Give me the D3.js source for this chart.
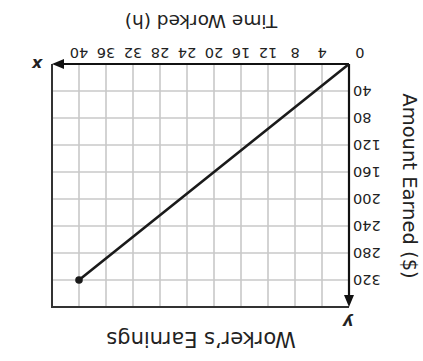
<!DOCTYPE html>
<html>
<head>
<meta charset="utf-8">
<script src="https://cdn.jsdelivr.net/npm/d3@7/dist/d3.min.js"></script>
<style>
  body { margin: 0; background: #fff; }
  text { font-family: "DejaVu Sans", Verdana, sans-serif; fill: #222; }
</style>
</head>
<body>
<div id="chart"></div>
<script>
// data
var hours = [0, 40];
var earned = [0, 320];
var xTicks = [0, 4, 8, 12, 16, 20, 24, 28, 32, 36, 40];
var yTicks = [40, 80, 120, 160, 200, 240, 280, 320];

var svgWidth = 423;
var svgHeight = 361;
var margin = {top: 54, right: 52, bottom: 64, left: 74};
var chartWidth = svgWidth - margin.left - margin.right;
var chartHeight = svgHeight - margin.top - margin.bottom;

var svg = d3.select("#chart")
  .append("svg")
    .attr("width", svgWidth)
    .attr("height", svgHeight);

// the whole picture is upside down
var root = svg.append("g")
  .attr("transform", `rotate(180, ${svgWidth / 2}, ${svgHeight / 2})`);

var chartGroup = root.append("g")
  .attr("transform", `translate(${margin.left}, ${margin.top})`);

var x = d3.scaleLinear().domain([0, 44]).range([0, chartWidth]);
var y = d3.scaleLinear().domain([0, 360]).range([chartHeight, 0]);

// grid
chartGroup.selectAll(".vgrid")
  .data(d3.range(4, 44, 4))
  .enter()
  .append("line")
    .attr("x1", d => x(d)).attr("x2", d => x(d))
    .attr("y1", 0).attr("y2", chartHeight)
    .attr("stroke", "#c8c8c8")
    .attr("stroke-width", 1.6);

chartGroup.selectAll(".hgrid")
  .data(d3.range(40, 360, 40))
  .enter()
  .append("line")
    .attr("x1", 0).attr("x2", chartWidth)
    .attr("y1", d => y(d)).attr("y2", d => y(d))
    .attr("stroke", "#c8c8c8")
    .attr("stroke-width", 1.6);

// outer border (top and right)
chartGroup.append("path")
  .attr("d", `M0,0 H${chartWidth} V${chartHeight}`)
  .attr("fill", "none")
  .attr("stroke", "#333")
  .attr("stroke-width", 2);

// axes
chartGroup.append("line")
  .attr("x1", 0).attr("x2", chartWidth - 8)
  .attr("y1", chartHeight).attr("y2", chartHeight)
  .attr("stroke", "#111").attr("stroke-width", 2.2);
chartGroup.append("path")
  .attr("d", `M${chartWidth},${chartHeight} l-12,-5 l0,10 z`)
  .attr("fill", "#111");

chartGroup.append("line")
  .attr("x1", 0).attr("x2", 0)
  .attr("y1", chartHeight).attr("y2", 8)
  .attr("stroke", "#111").attr("stroke-width", 2.2);
chartGroup.append("path")
  .attr("d", `M0,0 l-5,12 l10,0 z`)
  .attr("fill", "#111");

// tick labels
chartGroup.selectAll(".xlab")
  .data(xTicks)
  .enter()
  .append("text")
    .attr("x", d => d == 0 ? x(d) - 11 : x(d))
    .attr("y", chartHeight + 16)
    .attr("text-anchor", "middle")
    .attr("font-size", "14.5px")
    .text(d => d);

chartGroup.selectAll(".ylab")
  .data(yTicks)
  .enter()
  .append("text")
    .attr("x", -4)
    .attr("y", d => y(d) + 5)
    .attr("text-anchor", "end")
    .attr("font-size", "14.5px")
    .text(d => d);

// axis letters
chartGroup.append("text")
  .attr("x", chartWidth + 15)
  .attr("y", chartHeight + 5)
  .attr("text-anchor", "middle")
  .attr("font-size", "16px")
  .attr("font-weight", "bold")
  .attr("font-style", "italic")
  .text("x");

chartGroup.append("text")
  .attr("x", 1)
  .attr("y", -10)
  .attr("text-anchor", "middle")
  .attr("font-size", "16px")
  .attr("font-weight", "bold")
  .attr("font-style", "italic")
  .text("y");

// the earnings line
var pts = hours.map((h, i) => [h, earned[i]]);
chartGroup.append("path")
  .datum(pts)
  .attr("d", d3.line().x(d => x(d[0])).y(d => y(d[1])))
  .attr("fill", "none")
  .attr("stroke", "#1a1a1a")
  .attr("stroke-width", 2.6);

chartGroup.append("circle")
  .attr("cx", x(hours[1]))
  .attr("cy", y(earned[1]))
  .attr("r", 3.8)
  .attr("fill", "#1a1a1a");

// titles
root.append("text")
  .attr("x", 222)
  .attr("y", 29)
  .attr("text-anchor", "middle")
  .attr("font-size", "21px")
  .text("Worker’s Earnings");

root.append("text")
  .attr("x", 222)
  .attr("y", 346)
  .attr("text-anchor", "middle")
  .attr("font-size", "18.5px")
  .text("Time Worked (h)");

root.append("text")
  .attr("transform", "translate(20, 175) rotate(-90)")
  .attr("text-anchor", "middle")
  .attr("font-size", "19.5px")
  .text("Amount Earned ($)");
</script>
</body>
</html>
